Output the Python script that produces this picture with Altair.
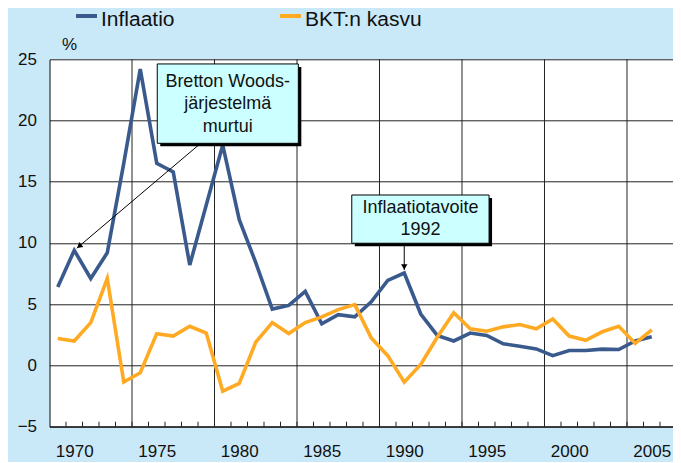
import altair as alt
import pandas as pd

# ---------------- data ----------------
years = list(range(1969, 2006))
inflaatio = [6.4, 9.4, 7.1, 9.2, 16.5, 24.2, 16.5, 15.8, 8.2, 13.1, 18.0, 11.9, 8.4,
             4.6, 4.9, 6.05, 3.4, 4.15, 3.97, 5.2, 6.95, 7.55, 4.2, 2.45, 2.0, 2.65,
             2.45, 1.77, 1.57, 1.35, 0.8, 1.22, 1.22, 1.33, 1.3, 2.0, 2.35]
bkt = [2.2, 2.0, 3.5, 7.1, -1.35, -0.6, 2.6, 2.4, 3.2, 2.65, -2.1, -1.47, 1.9, 3.5,
       2.6, 3.5, 3.97, 4.56, 4.97, 2.25, 0.8, -1.36, 0.08, 2.3, 4.3, 3.0, 2.8, 3.15,
       3.34, 3.0, 3.8, 2.4, 2.06, 2.75, 3.2, 1.8, 2.9]
series_names = ["Inflaatio", "BKT:n kasvu"]
series_colors = ["#3A5A8E", "#FFAA22"]
y_ticks = [-5, 0, 5, 10, 15, 20, 25]
x_labels = [1970, 1975, 1980, 1985, 1990, 1995, 2000, 2005]
grid_years = [1973.5, 1978.5, 1983.5, 1988.5, 1993.5, 1998.5, 2003.5]
tick_years = [y + 0.5 for y in years]

box_left = [1975.03, 1986.82]
box_right = [1983.58, 1995.14]
box_top = [24.62, 13.92]
box_bottom = [18.14, 9.98]
note_lines = ["Bretton Woods-", "järjestelmä", "murtui", "Inflaatiotavoite", "1992"]
note_x = [1979.3, 1979.3, 1979.3, 1990.98, 1990.98]
note_y = [23.14, 21.35, 19.47, 12.86, 11.07]

arrow_x1 = [1977.66, 1990.0]
arrow_y1 = [18.14, 9.98]
arrow_x2 = [1970.15, 1990.0]
arrow_y2 = [9.57, 7.80]
head_x = [1970.34, 1990.0]
head_y = [9.78, 8.12]
head_angle = [230, 180]

# ---------------- frames ----------------
df = pd.DataFrame({
    "vuosi": years * 2,
    "arvo": inflaatio + bkt,
    "sarja": [series_names[0]] * len(years) + [series_names[1]] * len(years),
})
boxes = pd.DataFrame({"x1": box_left, "x2": box_right, "y1": box_top, "y2": box_bottom})
notes = pd.DataFrame({"t": note_lines, "x": note_x, "y": note_y})
arrows = pd.DataFrame({"x1": arrow_x1, "y1": arrow_y1, "x2": arrow_x2, "y2": arrow_y2})
heads = pd.DataFrame({"x": head_x, "y": head_y, "a": head_angle})
grid_df = pd.DataFrame({"x": grid_years})
tick_df = pd.DataFrame({"x": tick_years})

W, H = 623.5, 367.4
FONT = "Liberation Sans"
xs = alt.Scale(domain=[1968.5, 1968.5 + W / 16.5], nice=False, zero=False)
ys = alt.Scale(domain=[-5, 25], nice=False, zero=False)

x_axis = alt.Axis(values=x_labels, format="d", grid=False, ticks=False, domain=True,
                  domainColor="black", domainWidth=1, labelFontSize=17, labelFont=FONT,
                  labelColor="#111", labelPadding=17, title=None)
y_axis = alt.Axis(values=y_ticks, grid=True, gridColor="#222", gridWidth=1, ticks=False,
                  domain=True, domainColor="black", domainWidth=1, labelFontSize=17,
                  labelFont=FONT, labelColor="#111", labelPadding=13, title="%",
                  titleAngle=0, titleAlign="left", titleBaseline="middle", titleX=12,
                  titleY=-15, titleFont=FONT, titleFontSize=17, titleFontWeight="normal",
                  titleColor="#111")

base_axes = alt.Chart(df).mark_line(opacity=0).encode(
    x=alt.X("vuosi:Q", scale=xs, axis=x_axis),
    y=alt.Y("arvo:Q", scale=ys, axis=y_axis),
    detail="sarja:N",
)

vgrid = alt.Chart(grid_df).mark_rule(color="#222", strokeWidth=1).encode(
    x=alt.X("x:Q", scale=xs), y=alt.value(0), y2=alt.value(H))

ticks = alt.Chart(tick_df).mark_rule(color="#222", strokeWidth=1).encode(
    x=alt.X("x:Q", scale=xs), y=alt.value(H - 5), y2=alt.value(H))

lines = alt.Chart(df).mark_line(strokeWidth=3.6, strokeJoin="miter").encode(
    x=alt.X("vuosi:Q", scale=xs),
    y=alt.Y("arvo:Q", scale=ys),
    color=alt.Color("sarja:N", scale=alt.Scale(domain=series_names, range=series_colors),
                    legend=None),
)

arrow_lines = alt.Chart(arrows).mark_rule(color="black", strokeWidth=1).encode(
    x=alt.X("x1:Q", scale=xs), y=alt.Y("y1:Q", scale=ys), x2="x2:Q", y2="y2:Q")

arrow_heads = alt.Chart(heads).mark_point(shape="triangle", filled=True, color="black",
                                          size=40, opacity=1).encode(
    x=alt.X("x:Q", scale=xs), y=alt.Y("y:Q", scale=ys), angle=alt.Angle("a:Q", scale=None))

shadow = alt.Chart(boxes).mark_rect(color="black", xOffset=3, x2Offset=3, yOffset=3,
                                    y2Offset=3).encode(
    x=alt.X("x1:Q", scale=xs), x2="x2:Q", y=alt.Y("y1:Q", scale=ys), y2="y2:Q")

box = alt.Chart(boxes).mark_rect(fill="#CCFFFF", stroke="black", strokeWidth=1).encode(
    x=alt.X("x1:Q", scale=xs), x2="x2:Q", y=alt.Y("y1:Q", scale=ys), y2="y2:Q")

note_text = alt.Chart(notes).mark_text(font=FONT, fontSize=18, color="#111",
                                       align="center", baseline="middle").encode(
    x=alt.X("x:Q", scale=xs), y=alt.Y("y:Q", scale=ys), text="t:N")

# legend drawn at the top
leg_layers = []
leg_x = [26.5, 230.5]
for name, col, lx in zip(series_names, series_colors, leg_x):
    leg_layers.append(
        alt.Chart(pd.DataFrame({"n": [name]})).mark_rule(color=col, strokeWidth=4).encode(
            x=alt.value(lx), x2=alt.value(lx + 21), y=alt.value(-43.3)))
    leg_layers.append(
        alt.Chart(pd.DataFrame({"n": [name]})).mark_text(
            font=FONT, fontSize=21, color="#111", align="left", baseline="middle").encode(
            x=alt.value(lx + 25), y=alt.value(-39.5), text="n:N"))

chart = alt.layer(
    base_axes, vgrid, ticks, lines, arrow_lines, shadow, box, note_text, arrow_heads,
    *leg_layers
).properties(
    width=W, height=H,
    autosize=alt.AutoSizeParams(type="none"),
    padding={"left": 41.5, "top": 51.3, "right": 0, "bottom": 35},
    background="#C9E8F8",
).configure_view(fill="white", stroke=None)

chart.save("out.html", embed_options={"renderer": "svg", "actions": False})
